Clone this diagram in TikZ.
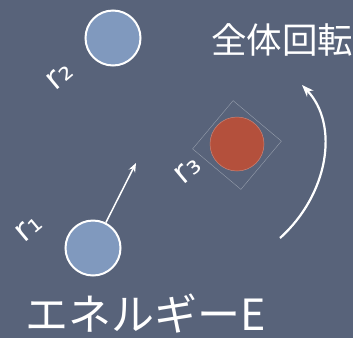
\documentclass[tikz,border=0pt]{standalone}
\usepackage{fontspec}
\setmainfont{Noto Sans CJK JP}
\newfontfamily\labfont{DejaVu Sans}
\usetikzlibrary{arrows.meta}
\definecolor{bg}{RGB}{88,99,122}
\definecolor{ballblue}{RGB}{128,153,190}
\definecolor{ballred}{RGB}{180,80,60}
\definecolor{boxgray}{RGB}{150,158,172}
\tikzset{
  ball/.style={circle, draw=white, line width=2pt, minimum size=55pt, inner sep=0pt},
  rlabel/.style={text=white, font=\labfont\fontsize{32}{32}\selectfont, rotate=40, inner sep=0pt},
  bigtext/.style={text=white, inner sep=0pt},
}
\begin{document}
\begin{tikzpicture}[x=1pt,y=-1pt]
\fill[bg] (0,0) rectangle (353,338);
\useasboundingbox (0,0) rectangle (353,338);
% balls
\node[ball, fill=ballblue] (b2) at (113,38) {};
\node[ball, fill=ballblue] (b1) at (93,248) {};
\node[draw=boxgray, line width=0.4pt, rotate=50, minimum size=63pt, inner sep=0pt] (sq) at (237,145) {};
\node[circle, fill=ballred, draw=ballred!70!white, line width=0.5pt, minimum size=54pt, inner sep=0pt] (b3) at (237,144) {};
% labels
\node[rlabel] (l1) at (29,228) {r₁};
\node[rlabel] (l2) at (60,76) {r₂};
\node[rlabel] (l3) at (188,170) {r₃};
% velocity arrow
\coordinate (v1) at (136,163);
\draw[white, line width=1.5pt, -{Stealth[length=9pt,width=7pt]}] (b1) -- (v1);
% rotation arrow
\coordinate (rs) at (280,238);
\coordinate (re) at (302,85);
\draw[white, line width=2.2pt, -{Stealth[length=12pt,width=9pt]}] (rs) .. controls (328,195) and (340,125) .. (re);
% texts
\node[bigtext, anchor=west, font=\fontsize{35.5}{35.5}\selectfont] (t1) at (211,40) {全体回転};
\node[bigtext, anchor=west, font=\fontsize{43}{43}\selectfont] (t2) at (25,314) {エネルギーE};
\end{tikzpicture}
\end{document}
